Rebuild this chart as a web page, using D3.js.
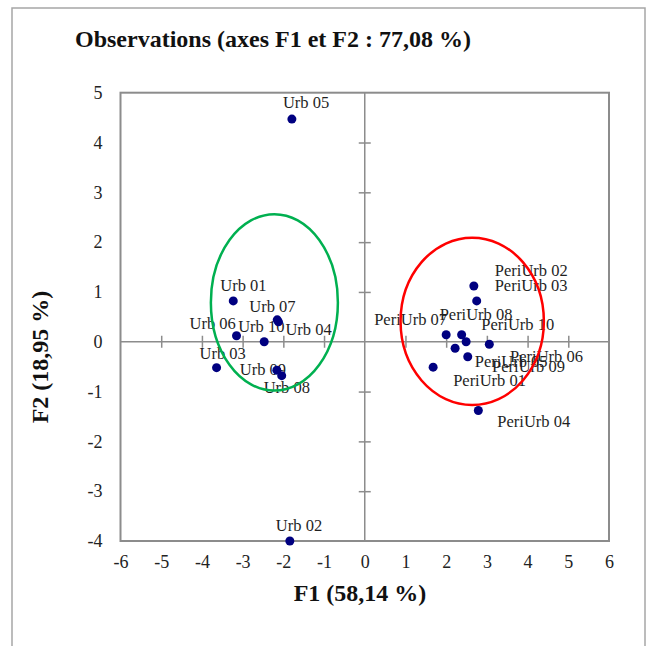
<!DOCTYPE html>
<html>
<head>
<meta charset="utf-8">
<script src="https://cdn.jsdelivr.net/npm/d3@7"></script>
<style>
  body { margin: 0; background: #fff; }
  svg { display: block; font-family: "Liberation Serif", "DejaVu Serif", serif; }
</style>
</head>
<body>
<svg width="648" height="646"></svg>
<script>
// --- Données ---
const names = ['Urb 01', 'Urb 02', 'Urb 03', 'Urb 04', 'Urb 05', 'Urb 06', 'Urb 07', 'Urb 08', 'Urb 09', 'Urb 10',
  'PeriUrb 01', 'PeriUrb 02', 'PeriUrb 03', 'PeriUrb 04', 'PeriUrb 05', 'PeriUrb 06', 'PeriUrb 07', 'PeriUrb 08', 'PeriUrb 09', 'PeriUrb 10'];
const f1 = [-3.23, -1.84, -3.64, -2.12, -1.79, -3.15, -2.15, -2.04, -2.16, -2.47,
  1.68, 2.68, 2.75, 2.79, 2.53, 2.49, 2.00, 2.38, 2.22, 3.06];
const f2 = [0.82, -4.00, -0.52, 0.40, 4.47, 0.12, 0.44, -0.68, -0.57, 0.00,
  -0.51, 1.12, 0.82, -1.38, -0.30, 0.00, 0.14, 0.14, -0.13, -0.05];
const xTicks = [-6, -5, -4, -3, -2, -1, 0, 1, 2, 3, 4, 5, 6];
const yTicks = [-4, -3, -2, -1, 0, 1, 2, 3, 4, 5];
// ellipses des groupes (centre et demi-axes en unités des axes)
const groups = [
  { cx: -2.22, cy: 0.79, rx: 1.56, ry: 1.77 },
  { cx: 2.64, cy: 0.41, rx: 1.76, ry: 1.68 }
];

// décalage des étiquettes (px) par rapport au point
const labelOffsets = [
  [-13, -10], [-14, -10], [-17, -9], [7, 13], [-9, -11], [-47, -7], [-28, -8], [-18, 17], [-37, 5], [-26, -10],
  [20, 19], [21, -10], [18, -10], [19, 17], [7, 10], [44, 20], [-72, -10], [-22, -15], [37, 24], [-8, -14]
];
const groupColors = ['#00B050', '#FF0000'];

const svg = d3.select('svg');

const plot = { left: 120.5, right: 609, top: 92.7, bottom: 541 };

const x = d3.scaleLinear().domain([-6, 6]).range([plot.left, plot.right]);
const y = d3.scaleLinear().domain([-4, 5]).range([plot.bottom, plot.top]);

// cadre extérieur
svg.append('rect')
  .attr('x', 12).attr('y', 8)
  .attr('width', 633).attr('height', 660)
  .attr('fill', '#fff')
  .attr('stroke', '#a6a6a6')
  .attr('stroke-width', 1.5);

// titre
svg.append('text')
  .attr('x', 75).attr('y', 47)
  .style('font-size', '24px')
  .style('font-weight', 'bold')
  .attr('fill', '#111')
  .text('Observations (axes F1 et F2 : 77,08 %)');

// zone du graphique
svg.append('rect')
  .attr('x', plot.left).attr('y', plot.top)
  .attr('width', plot.right - plot.left)
  .attr('height', plot.bottom - plot.top)
  .attr('fill', 'none')
  .attr('stroke', '#8c8c8c')
  .attr('stroke-width', 2);

// axes passant par zéro
svg.append('line')
  .attr('x1', plot.left).attr('x2', plot.right)
  .attr('y1', y(0)).attr('y2', y(0))
  .attr('stroke', '#8c8c8c').attr('stroke-width', 1.5);
svg.append('line')
  .attr('x1', x(0)).attr('x2', x(0))
  .attr('y1', plot.top).attr('y2', plot.bottom)
  .attr('stroke', '#8c8c8c').attr('stroke-width', 1.5);

// graduations croisant les axes zéro
const xTickMarks = svg.append('g')
  .attr('transform', `translate(0, ${y(0) - 6})`)
  .call(d3.axisBottom(x).tickValues(xTicks.filter(d => d > -6 && d < 6 && d !== 0)).tickSize(12).tickFormat(''));
const yTickMarks = svg.append('g')
  .attr('transform', `translate(${x(0) + 6}, 0)`)
  .call(d3.axisLeft(y).tickValues(yTicks.filter(d => d > -4 && d < 5 && d !== 0)).tickSize(12).tickFormat(''));
[xTickMarks, yTickMarks].forEach(g => {
  g.select('.domain').remove();
  g.selectAll('line').attr('stroke', '#8c8c8c').attr('stroke-width', 1.5);
});

// étiquettes des graduations (tiret simple comme signe moins)
const xAxis = svg.append('g')
  .attr('transform', `translate(0, ${plot.bottom + 14})`)
  .call(d3.axisBottom(x).tickValues(xTicks).tickSize(0).tickPadding(0).tickFormat(d => String(d)));
const yAxis = svg.append('g')
  .attr('transform', `translate(${plot.left - 18}, 0)`)
  .call(d3.axisLeft(y).tickValues(yTicks).tickSize(0).tickPadding(0).tickFormat(d => String(d)));
[xAxis, yAxis].forEach(g => {
  g.select('.domain').remove();
  g.selectAll('text')
    .style('font-family', '"Liberation Serif", serif')
    .style('font-size', '18px')
    .attr('fill', '#222');
});

// titres des axes
svg.append('text')
  .attr('x', 360).attr('y', 601)
  .attr('text-anchor', 'middle')
  .style('font-size', '24px')
  .style('font-weight', 'bold')
  .attr('fill', '#111')
  .text('F1 (58,14 %)');
svg.append('text')
  .attr('transform', `translate(48, 357) rotate(-90)`)
  .attr('text-anchor', 'middle')
  .style('font-size', '24px')
  .style('font-weight', 'bold')
  .attr('fill', '#111')
  .text('F2 (18,95 %)');

const data = names.map((n, i) => ({ name: n, f1: f1[i], f2: f2[i], off: labelOffsets[i] }));

// étiquettes des observations
svg.append('g').selectAll('text')
  .data(data)
  .enter()
  .append('text')
  .attr('x', d => x(d.f1) + d.off[0])
  .attr('y', d => y(d.f2) + d.off[1])
  .style('font-size', '16.5px')
  .attr('fill', '#1f1f1f')
  .text(d => d.name);

// points
svg.append('g').selectAll('circle')
  .data(data)
  .enter()
  .append('circle')
  .attr('cx', d => x(d.f1))
  .attr('cy', d => y(d.f2))
  .attr('r', 4.5)
  .attr('fill', '#000080');

// ellipses
svg.append('g').selectAll('ellipse')
  .data(groups)
  .enter()
  .append('ellipse')
  .attr('cx', d => x(d.cx))
  .attr('cy', d => y(d.cy))
  .attr('rx', d => x(d.rx) - x(0))
  .attr('ry', d => y(0) - y(d.ry))
  .attr('fill', 'none')
  .attr('stroke', (d, i) => groupColors[i])
  .attr('stroke-width', 2.5);
</script>
</body>
</html>
